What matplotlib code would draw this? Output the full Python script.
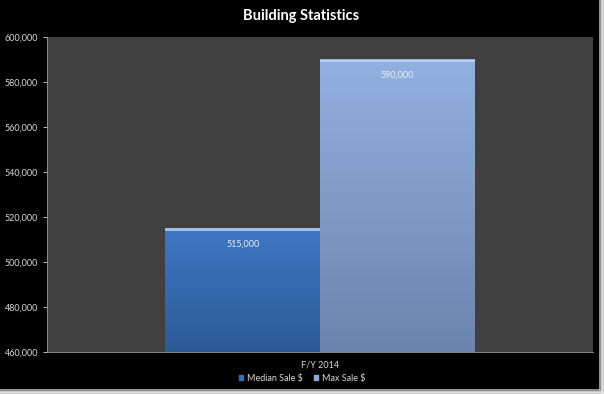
import numpy as np
import matplotlib.pyplot as plt
from matplotlib.patches import Rectangle
from matplotlib.lines import Line2D
from matplotlib.ticker import FuncFormatter

plt.rcParams['font.family'] = ['Lato', 'DejaVu Sans']

categories = ['F/Y 2014']
series = ['Median Sale $', 'Max Sale $']
values = [515000, 590000]
colors_top = ['#3f77c4', '#92b0e0']
colors_bottom = ['#2c5a96', '#6c84ad']
legend_colors = ['#3a6fb8', '#8ea9d6']

W, H = 604, 394
fig = plt.figure(figsize=(W / 100, H / 100), dpi=100, facecolor='black')
ax = fig.add_axes([47/W, 1 - 352/H, 546/W, 315/H])
ax.set_facecolor('#404040')

ax.set_ylim(460000, 600000)
ax.set_yticks(np.arange(460000, 600001, 20000))
ax.yaxis.set_major_formatter(FuncFormatter(lambda v, p: f'{int(v):,}'))
ax.set_xticks([0])
ax.set_xticklabels(categories)
ax.tick_params(colors='#d8d8d8', labelsize=6.5, length=3, width=0.6)
ax.tick_params(axis='x', length=0, pad=6)
for s in ['top', 'right']:
    ax.spines[s].set_visible(False)
for s in ['left', 'bottom']:
    ax.spines[s].set_color('#9a9a9a')
    ax.spines[s].set_linewidth(0.6)

bw = 0.283
offsets = [-bw / 2, bw / 2]
handles = []
for i, (name, v) in enumerate(zip(series, values)):
    x0 = offsets[i] - bw / 2
    # vertical gradient fill
    c1 = np.array(plt.matplotlib.colors.to_rgb(colors_top[i]))
    c2 = np.array(plt.matplotlib.colors.to_rgb(colors_bottom[i]))
    t = np.linspace(0, 1, 100)[:, None]
    grad = (c1 * (1 - t) + c2 * t)[:, None, :]
    ax.imshow(grad, extent=[x0, x0 + bw, 460000, v], aspect='auto',
              origin='upper', zorder=2)
    ax.add_patch(Rectangle((x0, v - 1200), bw, 1200, color='#c8dcf6',
                           alpha=0.7, zorder=3, lw=0))
    ax.text(offsets[i], v - 7000, f'{v:,}', ha='center', va='center',
            color='#e8eef8', fontsize=6.5, zorder=4)
    handles.append(Rectangle((0, 0), 1, 1, color=legend_colors[i], label=name))

ax.set_xlim(-0.5, 0.5)
ax.set_ylim(460000, 600000)

fig.legend(handles=handles, loc='center', bbox_to_anchor=(302/W, 1 - 378/H),
           ncol=2, frameon=False, fontsize=6.5, labelcolor='#d8d8d8',
           handlelength=0.5, handleheight=0.5, handletextpad=0.4,
           columnspacing=1.2)

fig.text(301/W, 1 - 16/H, 'Building Statistics', ha='center', va='center',
         color='white', fontsize=10.5, fontweight='bold')

# shadow border on right and bottom
fig.add_artist(Line2D([599.5/W, 599.5/W], [1 - 389.5/H, 1], transform=fig.transFigure,
                      color='#b0b0b0', lw=1.2))
fig.add_artist(Line2D([0, 599.5/W], [1 - 389.5/H, 1 - 389.5/H], transform=fig.transFigure,
                      color='#b0b0b0', lw=1.2))
fig.add_artist(Line2D([601.5/W, 601.5/W], [1 - 391.5/H, 1], transform=fig.transFigure,
                      color='#e0e0e0', lw=2))
fig.add_artist(Line2D([0, 601.5/W], [1 - 391.5/H, 1 - 391.5/H], transform=fig.transFigure,
                      color='#e0e0e0', lw=2))

fig.savefig('out.png', dpi=100, facecolor='black')
